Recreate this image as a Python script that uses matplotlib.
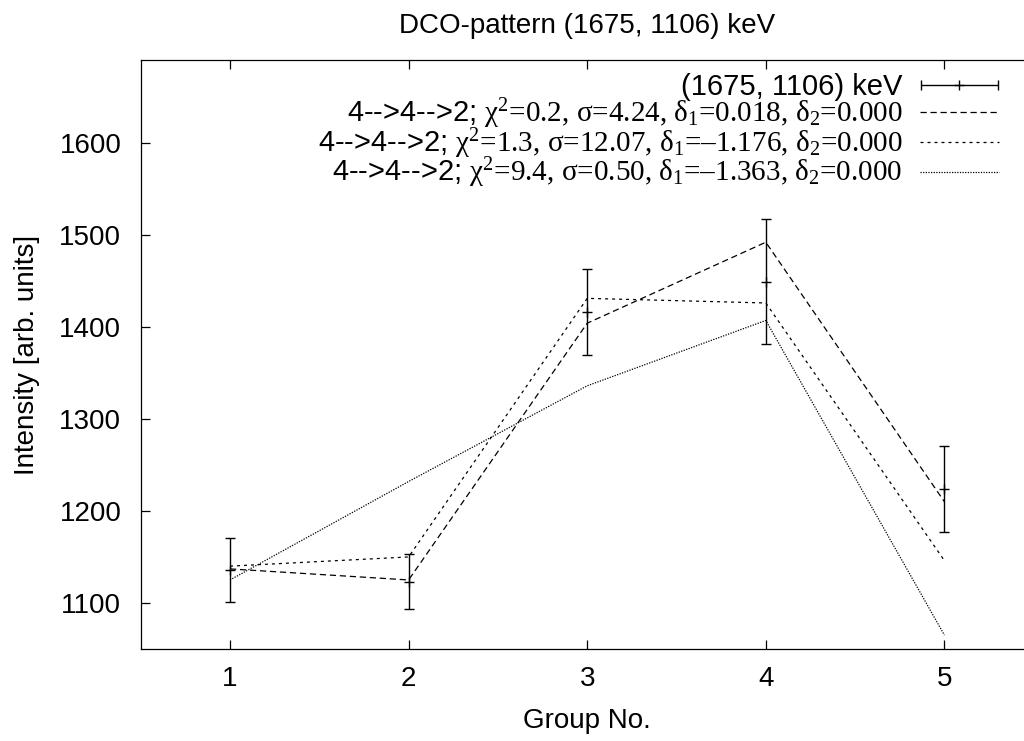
import matplotlib
matplotlib.use('Agg')
import matplotlib.pyplot as plt
from matplotlib.container import ErrorbarContainer
from matplotlib.legend_handler import HandlerErrorbar

plt.rcParams['font.family'] = ['Liberation Sans', 'DejaVu Sans']
plt.rcParams['mathtext.fontset'] = 'custom'
plt.rcParams['mathtext.rm'] = 'Liberation Serif'
plt.rcParams['mathtext.it'] = 'Liberation Serif:italic'
plt.rcParams['mathtext.bf'] = 'Liberation Serif:bold'
plt.rcParams['mathtext.default'] = 'rm'

# measured DCO intensities per detector group
groups = [1, 2, 3, 4, 5]
intensity = [1136, 1123, 1416, 1449, 1224]
intensity_err = [35, 30, 47, 68, 47]

# calculated patterns
fit_a = [1137, 1125, 1404, 1492, 1210]
fit_b = [1140, 1150, 1431, 1426, 1146]
fit_c = [1125, 1232, 1336, 1407, 1065]

data_label = '(1675, 1106) keV'
fit_labels = [
    r'4-->4-->2; $\chi^2\text{=0.2, }\sigma\text{=4.24, }\delta_1\text{=0.018, }\delta_2\text{=0.000}$',
    r'4-->4-->2; $\chi^2\text{=1.3, }\sigma\text{=12.07, }\delta_1\text{=–1.176, }\delta_2\text{=0.000}$',
    r'4-->4-->2; $\chi^2\text{=9.4, }\sigma\text{=0.50, }\delta_1\text{=–1.363, }\delta_2\text{=0.000}$',
]

fig = plt.figure(figsize=(10.24, 7.41), dpi=100)
ax = fig.add_axes([0.1374, 0.1242, 0.8721, 0.7948])

eb = ax.errorbar(groups, intensity, yerr=intensity_err, fmt='+', color='k',
                 ms=7, mew=1, elinewidth=1, capsize=3.6, capthick=1)
la, = ax.plot(groups, fit_a, color='k', lw=0.9, dashes=(5, 3))
lb, = ax.plot(groups, fit_b, color='k', lw=0.9, dashes=(2.4, 3.2))
lc, = ax.plot(groups, fit_c, color='k', lw=0.9, dashes=(1, 1.1))

ax.set_xlim(0.5, 5.5)
ax.set_ylim(1050, 1690)
ax.set_xticks(groups)
ax.set_yticks([1100, 1200, 1300, 1400, 1500, 1600])
ax.tick_params(direction='in', length=6.5, width=0.9, top=True, right=True,
               labelsize=20)
ax.tick_params(axis='x', pad=12.5)
ax.tick_params(axis='y', pad=14)
for s in ax.spines.values():
    s.set_linewidth(0.9)

ax.set_title('DCO-pattern (1675, 1106) keV', fontsize=20, pad=19.5)
ax.set_xlabel('Group No.', fontsize=20, labelpad=11)
ax.set_ylabel('Intensity [arb. units]', fontsize=20, labelpad=14)

# horizontal error bar key like gnuplot
eb.has_xerr = True
eb.has_yerr = False
ax.legend([eb, la, lb, lc], [data_label] + fit_labels,
          loc='upper right', bbox_to_anchor=(999 / 1024, 1 - 73 / 741),
          bbox_transform=fig.transFigure, frameon=False, markerfirst=False,
          handlelength=2.71, handletextpad=0.6, labelspacing=-0.16,
          borderpad=0, borderaxespad=0, fontsize=21,
          handler_map={ErrorbarContainer: HandlerErrorbar(xerr_size=1.33)})

fig.savefig('out.png', dpi=100)
